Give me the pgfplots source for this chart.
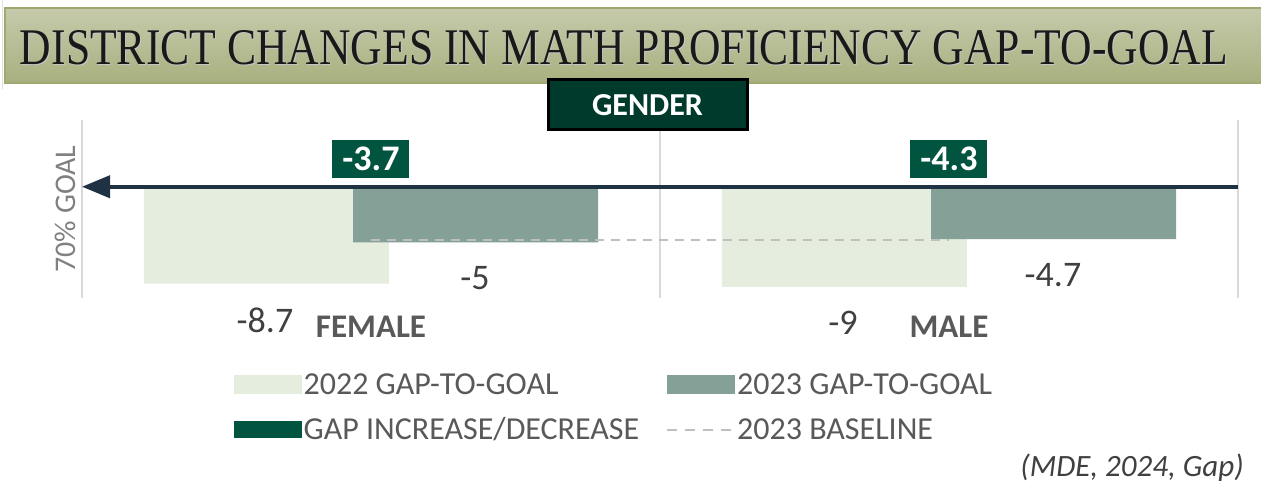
\documentclass[border=0pt]{standalone}
\usepackage{pgfplots}
\pgfplotsset{compat=1.18}
\usepackage{fontspec}
\setmainfont{Carlito}
\newfontfamily\titlefont{Liberation Serif}
\usetikzlibrary{arrows.meta}
\definecolor{c22}{HTML}{E4EDDE}
\definecolor{c23}{HTML}{85A096}
\definecolor{gapgreen}{HTML}{005440}
\definecolor{genderbg}{HTML}{003A2D}
\definecolor{arrowc}{HTML}{1E3244}
\definecolor{dashc}{HTML}{BFBFBF}
\definecolor{gridc}{HTML}{D9D9D9}
\definecolor{txtgray}{HTML}{595959}
\definecolor{valgray}{HTML}{404040}
\definecolor{bantop}{HTML}{C6CAAB}
\definecolor{banbot}{HTML}{A8B07F}
\definecolor{banborder}{HTML}{9FA86F}
\begin{document}
\begin{tikzpicture}[x=1pt,y=1pt]
\useasboundingbox (0,0) rectangle (1261,489);
% title banner
\draw[gray!25, line width=1pt] (2,489) -- (2,400);
\shade[top color=bantop, bottom color=banbot] (5,481) rectangle (1262,406);
\draw[banborder, line width=1.5pt] (1262,481) -- (5,481) -- (5,406) -- (1262,406);
\node[anchor=base, inner sep=0pt, text=gray!45] at (625,423) {\resizebox{1208pt}{34pt}{\titlefont DISTRICT CHANGES IN MATH PROFICIENCY GAP-TO-GOAL}};
\node[anchor=base, inner sep=0pt, text=black!90] at (624,424) {\resizebox{1208pt}{34pt}{\titlefont DISTRICT CHANGES IN MATH PROFICIENCY GAP-TO-GOAL}};
\begin{axis}[
  at={(82pt,191pt)}, anchor=south west,
  scale only axis, width=1156pt, height=178pt,
  xmin=-0.5, xmax=1.5, ymin=-10, ymax=6,
  enlargelimits=false, clip=false,
  axis line style={draw=none},
  major tick length=0pt,
  xtick={-0.5,0.5,1.5}, xticklabels={},
  ytick=\empty,
  xmajorgrids, major grid style={gridc, line width=2pt},
  extra x ticks={0,1},
  extra x tick labels={FEMALE,MALE},
  extra x tick style={xmajorgrids=false, tick label style={font=\fontsize{33}{40}\selectfont\bfseries, text=txtgray, yshift=-15pt}},
  ylabel={70\% GOAL},
  ylabel style={at={(axis description cs:-0.0147,0.5)}, anchor=center, font=\fontsize{30}{36}\selectfont, text=gray},
  legend style={at={(axis description cs:0.1289,-0.40)}, anchor=north west, draw=none, fill=none,
    font=\fontsize{32}{40}\selectfont, nodes={text=txtgray, inner sep=2pt}, row sep=18pt,
    /tikz/every even column/.append style={column sep=25pt}},
  legend columns=2, legend cell align=left,
]
\addlegendimage{legend image code/.code={\fill[c22] (0pt,-9pt) rectangle (67pt,9pt);}}
\addlegendentry{2022 GAP-TO-GOAL}
\addlegendimage{legend image code/.code={\fill[c23] (0pt,-9pt) rectangle (67pt,9pt);}}
\addlegendentry{2023 GAP-TO-GOAL}
\addlegendimage{legend image code/.code={\fill[gapgreen] (0pt,-8pt) rectangle (67pt,8pt);}}
\addlegendentry{GAP INCREASE/DECREASE}
\addlegendimage{legend image code/.code={\draw[dashc, line width=2pt, dash pattern=on 10pt off 8pt] (0pt,0pt) -- (67pt,0pt);}}
\addlegendentry{2023 BASELINE}
% 2022 bars
\addplot[forget plot, ybar, bar width=0.424, bar shift=-0.181, fill=c22, draw=none,
  point meta=explicit symbolic, nodes near coords, nodes near coords align=below,
  nodes near coords style={inner sep=0pt, yshift=-24pt, xshift=-106pt, font=\fontsize{36}{40}\selectfont, text=valgray}]
  coordinates {(0,-8.7)[-8.7] (1,-9)[-9]};
% 2023 bars
\addplot[forget plot, ybar, bar width=0.424, bar shift=0.181, fill=c23, draw=none,
  point meta=explicit symbolic, nodes near coords, nodes near coords align=below,
  nodes near coords style={inner sep=0pt, yshift=-24pt, xshift=104pt, font=\fontsize{36}{40}\selectfont, text=valgray}]
  coordinates {(0,-5)[-5] (1,-4.7)[-4.7]};
% baseline
\addplot[forget plot, dashc, line width=2pt, dash pattern=on 9pt off 7pt] coordinates {(0,-4.75) (1,-4.75)};
% arrow at goal
\addplot[forget plot, arrowc, line width=4pt, -{Triangle[length=28pt,width=22pt]}] coordinates {(1.5,0) (-0.5,0)};
% change boxes
\addplot[forget plot, draw=none, point meta=explicit symbolic, nodes near coords, nodes near coords align=center,
  nodes near coords style={anchor=center, fill=gapgreen, text=white, inner sep=0pt, minimum width=77pt, minimum height=38pt, font=\fontsize{36}{40}\selectfont\bfseries}]
  coordinates {(0,2.52)[-3.7] (1,2.52)[-4.3]};
\end{axis}
% gender box
\draw[black, line width=3pt, fill=genderbg] (548,409) rectangle (747,359);
\node[text=white, font=\fontsize{32}{36}\selectfont\bfseries] at (647.5,384) {GENDER};
% source
\node[text=valgray, font=\fontsize{31}{36}\selectfont\itshape] at (1132,21) {(MDE, 2024, Gap)};
\end{tikzpicture}
\end{document}
